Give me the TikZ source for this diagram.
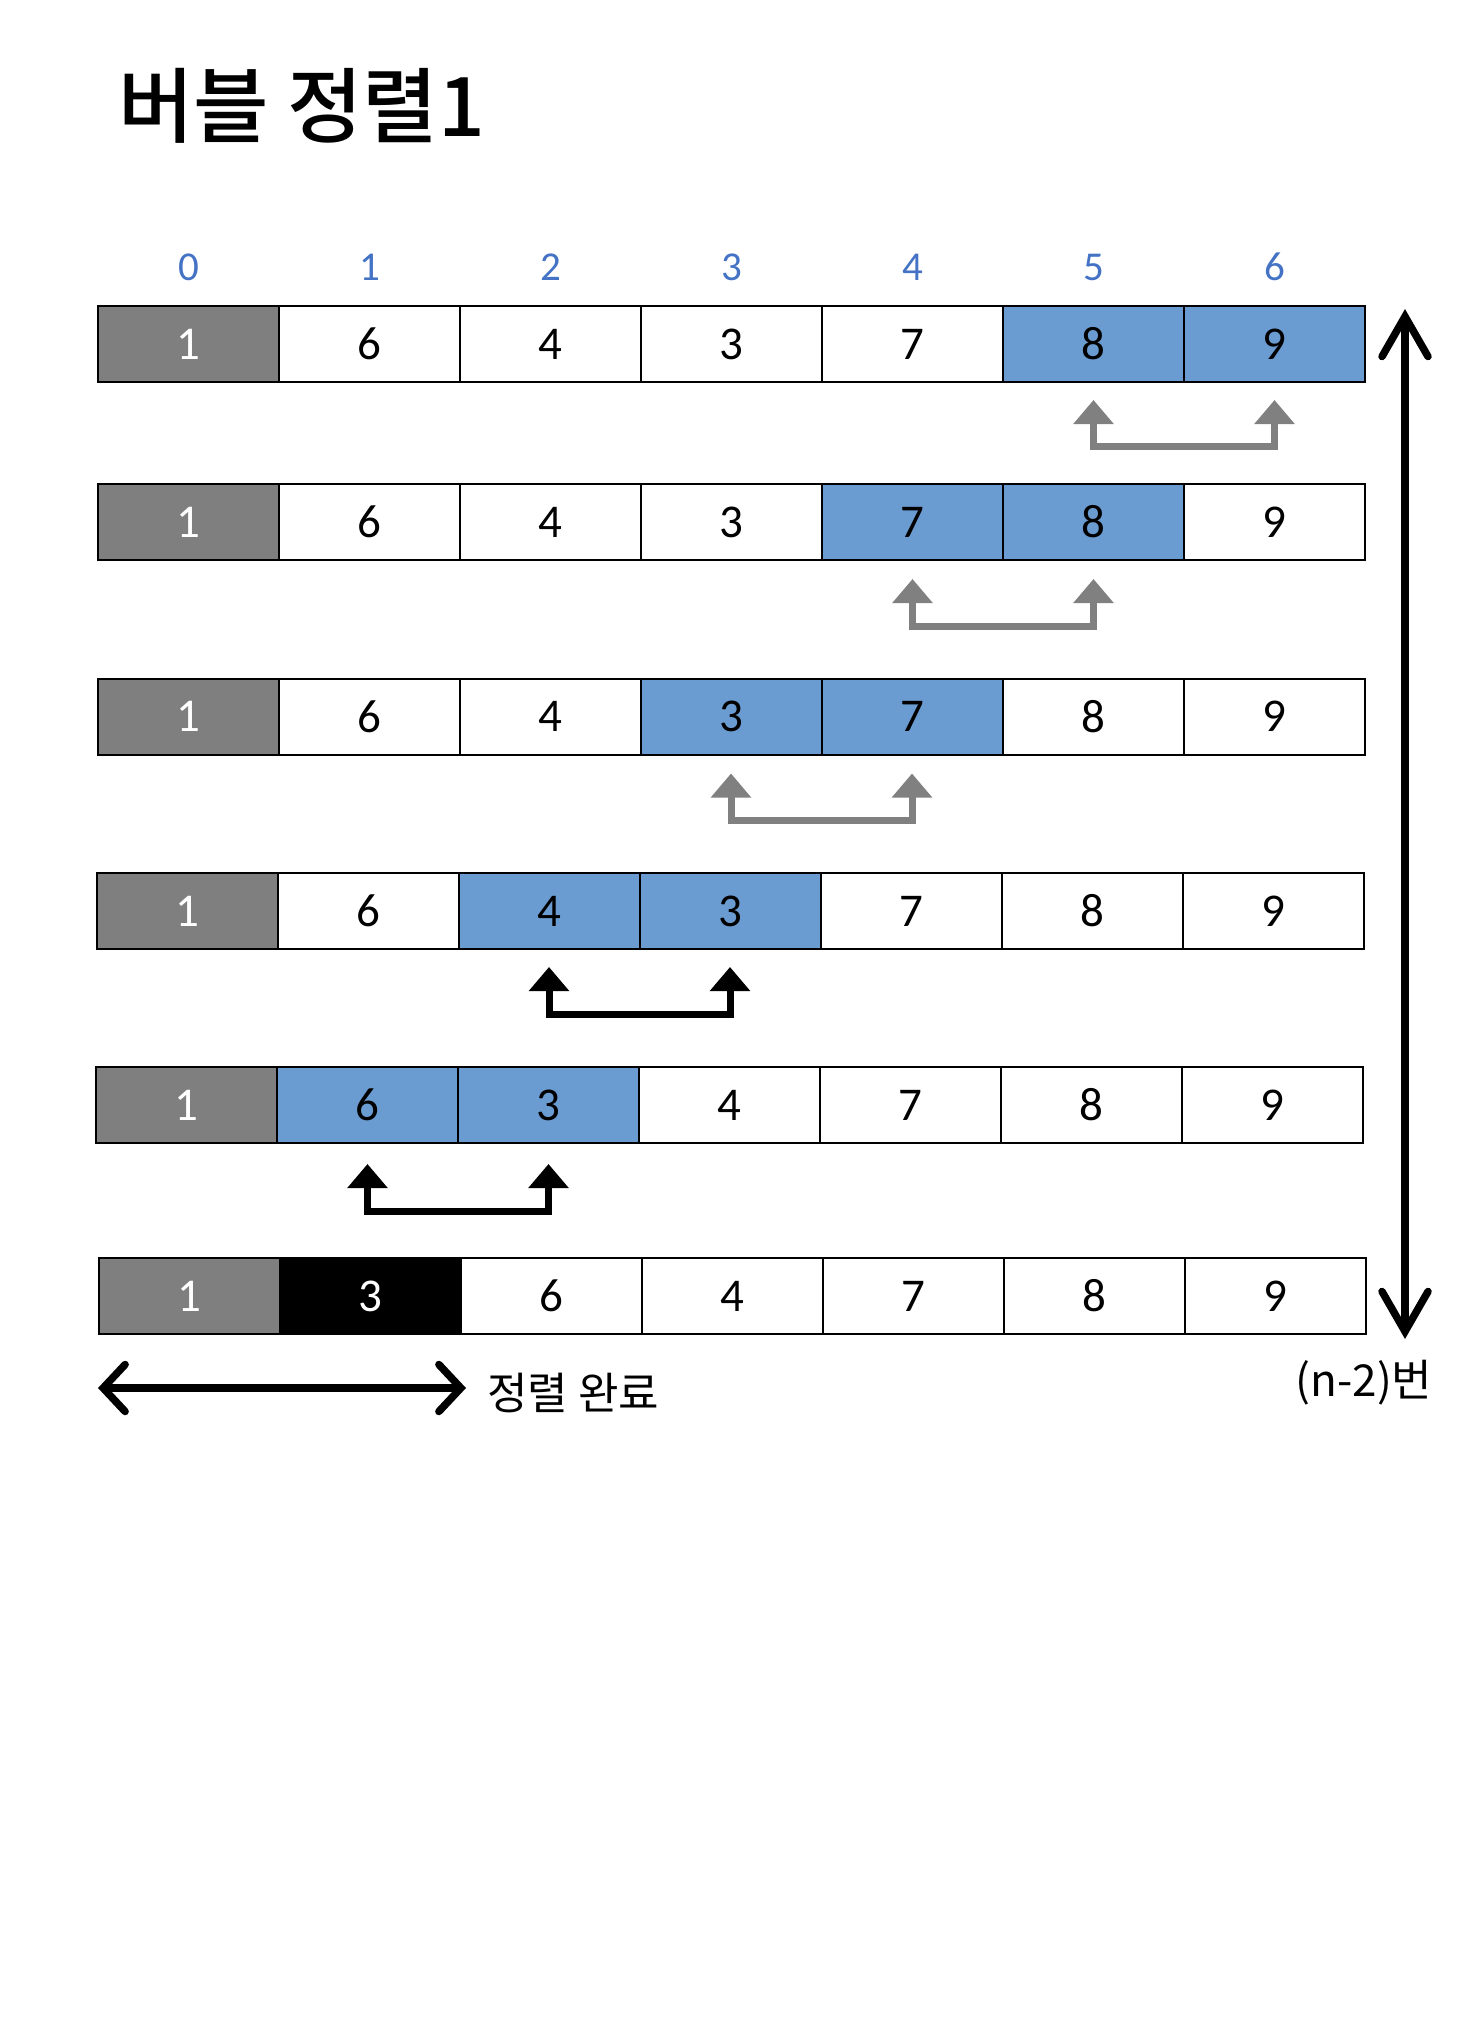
\documentclass[tikz,border=0pt]{standalone}
\usepackage{fontspec}
\setmainfont{Carlito}
\newfontfamily\cjk{Noto Sans CJK KR}
\newfontfamily\cjktitle{Noto Sans CJK KR Medium}
\usetikzlibrary{arrows.meta}
\definecolor{cblue}{RGB}{106,155,209}
\definecolor{cgray}{RGB}{127,127,127}
\definecolor{agray}{RGB}{128,128,128}
\definecolor{idxblue}{RGB}{68,114,196}
\begin{document}
\begin{tikzpicture}[x=1pt,y=-1pt,
  cell/.style={draw=black, line width=2pt, minimum width=181pt, minimum height=76pt,
    inner sep=0pt, outer sep=0pt, font=\fontsize{47}{50}\selectfont},
  idx/.style={text=idxblue, font=\fontsize{41}{45}\selectfont, inner sep=0pt},
  swapgray/.style={draw=agray, line width=7pt, line join=miter,
    {Triangle[width=39pt,length=24pt]}-{Triangle[width=39pt,length=24pt]}},
  swapblack/.style={draw=black, line width=7pt, line join=miter,
    {Triangle[width=39pt,length=24pt]}-{Triangle[width=39pt,length=24pt]}},
  bigv/.style={draw=black, line width=7.5pt,
    {Straight Barb[width=46pt,length=40pt,line cap=round]}-{Straight Barb[width=46pt,length=40pt,line cap=round]}},
  bigh/.style={draw=black, line width=7.5pt,
    {Straight Barb[width=47pt,length=22pt,line cap=round]}-{Straight Barb[width=47pt,length=22pt,line cap=round]}},
  lbl/.style={font=\cjk\fontsize{44}{50}\selectfont, inner sep=0pt}]
\useasboundingbox (0,0) rectangle (1456,2018);

% title
\node[anchor=west, inner sep=0pt, font=\cjktitle\fontsize{82}{92}\selectfont] (title) at (118,106) {버블 정렬1};

% rows
\foreach \r/\x/\y/\cells in {
  1/98/344/{1/cgray/white,6/white/black,4/white/black,3/white/black,7/white/black,8/cblue/black,9/cblue/black},
  2/98/522/{1/cgray/white,6/white/black,4/white/black,3/white/black,7/cblue/black,8/cblue/black,9/white/black},
  3/97.5/716.5/{1/cgray/white,6/white/black,4/white/black,3/cblue/black,7/cblue/black,8/white/black,9/white/black},
  4/96.5/911/{1/cgray/white,6/white/black,4/cblue/black,3/cblue/black,7/white/black,8/white/black,9/white/black},
  5/96/1105/{1/cgray/white,6/cblue/black,3/cblue/black,4/white/black,7/white/black,8/white/black,9/white/black},
  6/99/1296/{1/cgray/white,3/black/white,6/white/black,4/white/black,7/white/black,8/white/black,9/white/black}} {
  \foreach \v/\f/\t [count=\c from 0] in \cells {
    \node[cell, fill=\f, text=\t] (r\r c\c) at ({\x+181*(\c+0.5)}, \y) {\v};
  }
}

% index labels
\foreach \i in {0,...,6} {
  \node[idx] (i\i) at ([yshift=77pt]r1c\i.center) {\i};
}

% swap arrows
\draw[swapgray] ([yshift=-18pt]r1c5.south) -- ([yshift=-64pt]r1c5.south) -- ([yshift=-64pt]r1c6.south) -- ([yshift=-18pt]r1c6.south);
\draw[swapgray] ([yshift=-19pt]r2c4.south) -- ([yshift=-66pt]r2c4.south) -- ([yshift=-66pt]r2c5.south) -- ([yshift=-19pt]r2c5.south);
\draw[swapgray] ([yshift=-19pt]r3c3.south) -- ([yshift=-66pt]r3c3.south) -- ([yshift=-66pt]r3c4.south) -- ([yshift=-19pt]r3c4.south);
\draw[swapblack] ([yshift=-18pt]r4c2.south) -- ([yshift=-65pt]r4c2.south) -- ([yshift=-65pt]r4c3.south) -- ([yshift=-18pt]r4c3.south);
\draw[swapblack] ([yshift=-21pt]r5c1.south) -- ([yshift=-68pt]r5c1.south) -- ([yshift=-68pt]r5c2.south) -- ([yshift=-21pt]r5c2.south);

% big vertical arrow
\coordinate (vtop) at (1405,309);
\coordinate (vbot) at (1405,1339);
\draw[bigv] (vtop) -- (vbot);

% bottom horizontal arrow
\coordinate (hl) at (98,1388);
\coordinate (hr) at (466,1388);
\draw[bigh] (hl) -- (hr);

\node[lbl, anchor=west] (done) at (487,1393) {정렬 완료};
\node[lbl] (times) at (1364,1383) {(n-2)번};
\end{tikzpicture}
\end{document}
